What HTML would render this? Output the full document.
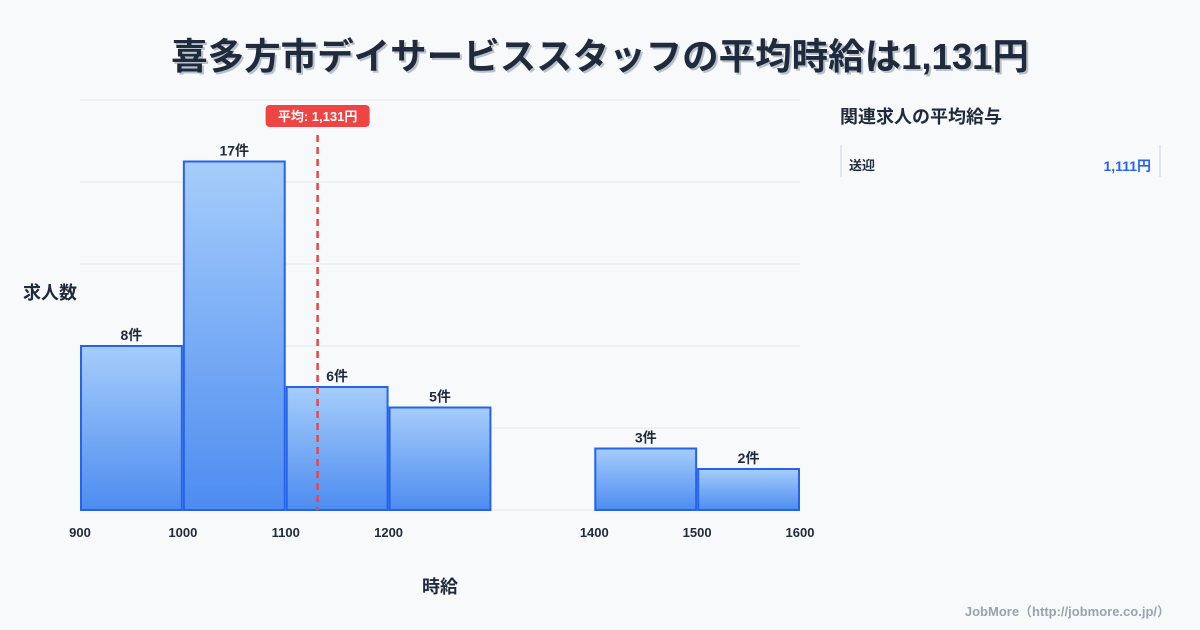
<!DOCTYPE html>
<html><head><meta charset="utf-8"><style>
body{margin:0;width:1200px;height:630px;background:#f8f9fb;font-family:"Liberation Sans","Noto Sans CJK JP",sans-serif;overflow:hidden;position:relative;color:#1f2a3c}
.t{position:absolute;left:0;width:1200px;top:27px;text-align:center;font-size:36.5px;font-weight:bold;color:#1f2a3c;text-shadow:2px 2px 0 #b9c1cc}
svg{position:absolute;left:0;top:0}
</style></head><body>
<div class="t">喜多方市デイサービススタッフの平均時給は1,131円</div>
<svg width="1200" height="630">
<defs><linearGradient id="g" x1="0" y1="0" x2="0" y2="1"><stop offset="0" stop-color="#a6cdfb"/><stop offset="1" stop-color="#4d8cf0"/></linearGradient></defs>
<g id="grid"></g><g id="bars"></g><g id="ticks"></g>
<text x="50" y="299" font-size="18" font-weight="bold" text-anchor="middle" fill="#1f2a3c">求人数</text>
<text x="440" y="593" font-size="18" font-weight="bold" text-anchor="middle" fill="#1f2a3c">時給</text>
<g id="avg"></g>
<text x="840" y="123" font-size="18" font-weight="bold" fill="#1f2a3c">関連求人の平均給与</text>
<line x1="841" y1="145" x2="841" y2="177" stroke="#c8d2e0"/>
<line x1="1160" y1="145" x2="1160" y2="177" stroke="#c8d2e0"/>
<text x="849" y="170" font-size="13" font-weight="bold" fill="#1f2a3c">送迎</text>
<text x="1151" y="171" font-size="14" font-weight="bold" fill="#2563eb" text-anchor="end">1,111円</text>
<text x="1170" y="616" font-size="13" font-weight="bold" fill="#9aa3ae" text-anchor="end">JobMore（http://jobmore.co.jp/）</text>
</svg>
<script>
const binStarts=[900,1000,1100,1200,1300,1400,1500];
const counts=[8,17,6,5,0,3,2];
const xTicks=[900,1000,1100,1200,1400,1500,1600];
const yGrid=[0,4,8,12,16,20];
const avgValue=1131;
const NS='http://www.w3.org/2000/svg';
const X=v=>80+(v-900)*720/700, Y=v=>510-v*20.5;
function mk(t,a,p,txt){const e=document.createElementNS(NS,t);for(const k in a)e.setAttribute(k,a[k]);if(txt!=null)e.textContent=txt;p.appendChild(e);return e;}
const G=document.getElementById('grid');
yGrid.forEach(v=>{const l=mk('line',{x1:80,x2:800,y1:Y(v),y2:Y(v),stroke:'#e3e7ee'},G);

});
const B=document.getElementById('bars');
binStarts.forEach((s,i)=>{if(!counts[i])return;
const r=mk('rect',{x:X(s)+1,y:Y(counts[i]),width:X(s+100)-X(s)-2,height:Y(0)-Y(counts[i]),fill:'url(#g)',stroke:'#2563eb','stroke-width':2},B);


const t=mk('text',{x:(X(s)+X(s+100))/2,y:Y(counts[i])-6,'font-size':14,'font-weight':'bold','text-anchor':'middle',fill:'#1f2a3c'},B,counts[i]+'件');

});
const T=document.getElementById('ticks');
xTicks.forEach(v=>{const t=mk('text',{x:X(v),y:537,'font-size':13,'font-weight':'bold','text-anchor':'middle',fill:'#1f2a3c'},T,v);

});
const A=document.getElementById('avg');const ax=X(avgValue);
const al=mk('line',{x1:ax,x2:ax,y1:135,y2:510,stroke:'#ef4444','stroke-width':2.5,'stroke-dasharray':'7,5'},A);


const ab=mk('rect',{x:ax-52,y:105,width:104,height:22,rx:4,fill:'#ef4444'},A);


const at=mk('text',{x:ax,y:121,'font-size':13,'font-weight':'bold','text-anchor':'middle',fill:'#fff'},A,'平均: 1,131円');


</script>
</body></html>
